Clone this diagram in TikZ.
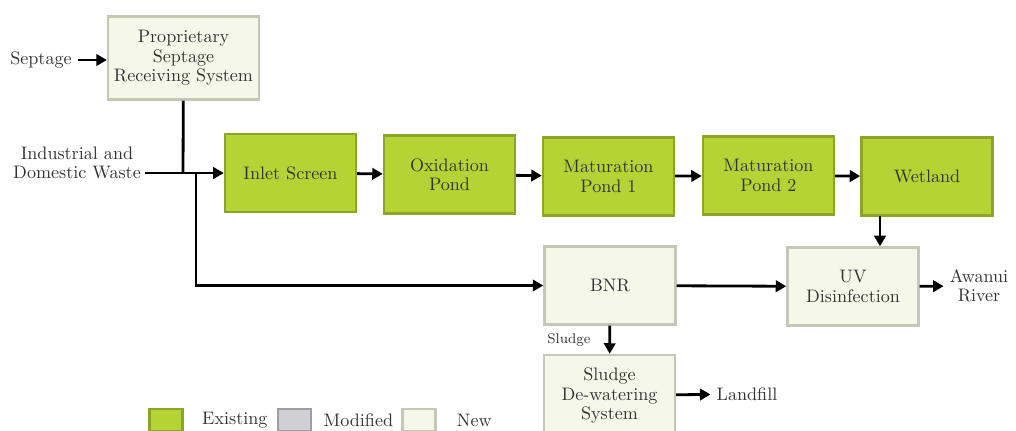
\documentclass[tikz,border=0pt]{standalone}
\usepackage{tikz}
\usetikzlibrary{arrows.meta, positioning}
\definecolor{existfill}{HTML}{B5D335}
\definecolor{existline}{HTML}{8BA52B}
\definecolor{modfill}{HTML}{D0D0D4}
\definecolor{modline}{HTML}{9E9EA2}
\definecolor{newfill}{HTML}{F5F7E8}
\definecolor{newline}{HTML}{C4C8B4}
\definecolor{txt}{HTML}{333333}
\begin{document}
\begin{tikzpicture}[x=0.02cm, y=-0.02cm, font=\fontsize{10.3}{11}\selectfont, text=txt, exist/.style={draw=existline, fill=existfill, line width=1.4pt, minimum width=2.62cm, minimum height=1.56cm, align=center}, new/.style={draw=newline, fill=newfill, line width=1.4pt, minimum width=2.62cm, minimum height=1.56cm, align=center}, key/.style={rectangle, line width=1.4pt, minimum width=0.66cm, minimum height=0.44cm}, lbl/.style={align=center}, l/.style={line width=1.6pt}, n/.style={-{Triangle[length=6pt, width=6.5pt]}, line width=1.6pt}]
            \useasboundingbox (0,0) rectangle (1016,430);
            % nodes
            \node[new, minimum width=3.0cm, minimum height=1.66cm] (psrs) at (183.5,58) {Proprietary\\Septage\\Receiving System};
            \node[exist] (inlet) at (290.5,173) {Inlet Screen};
            \node[exist] (oxid) at (449.5,174.5) {Oxidation\\Pond};
            \node[exist] (mat1) at (608.5,176.5) {Maturation\\Pond 1};
            \node[exist] (mat2) at (768.5,175.5) {Maturation\\Pond 2};
            \node[exist] (wetland) at (927,176.5) {Wetland};
            \node[new] (bnr) at (610,285.5) {BNR};
            \node[new] (uv) at (853,286.5) {UV\\Disinfection};
            \node[new, minimum height=1.62cm] (dewater) at (609.5,395.5) {Sludge\\De-watering\\System};
            \node[lbl] (septage) at (41,60) {Septage};
            \node[lbl] (waste) at (77,163) {Industrial and\\Domestic Waste};
            \node[lbl] (river) at (979,286) {Awanui\\River};
            \node[lbl] (landfill) at (747,394) {Landfill};
            \node[lbl, font=\fontsize{8}{9}\selectfont] (sludge) at (569,340) {Sludge};
            \coordinate (wasteout) at (145,173);
            \coordinate (j1) at (183,173);
            \coordinate (j2) at (196,173);
            \coordinate (drop) at (880,216);
            % legend
            \node[key, draw=existline, fill=existfill] (kexist) at (166,420) {};
            \node[right=7pt of kexist] (texist) {Existing};
            \node[key, draw=modline, fill=modfill] (kmod) at (294.5,420) {};
            \node[right=3pt of kmod] (tmod) {Modified};
            \node[key, draw=newline, fill=newfill] (knew) at (419,420) {};
            \node[right=8pt of knew] (tnew) {New};
            % edges
            \draw [n] (septage) -- (septage -| psrs.west);
            \draw [l] (psrs) -- (j1);
            \draw [n] (wasteout) -- (inlet);
            \draw [n] (j2) |- (bnr);
            \draw [n] (inlet) -- (oxid);
            \draw [n] (oxid) -- (mat1);
            \draw [n] (mat1) -- (mat2);
            \draw [n] (mat2) -- (wetland);
            \draw [n] (drop) -- (drop |- uv.north);
            \draw [n] (bnr) -- (uv);
            \draw [n] (uv) -- (river);
            \draw [n] (bnr) -- (dewater);
            \draw [n] (dewater) -- (landfill);
        \end{tikzpicture}
\end{document}
